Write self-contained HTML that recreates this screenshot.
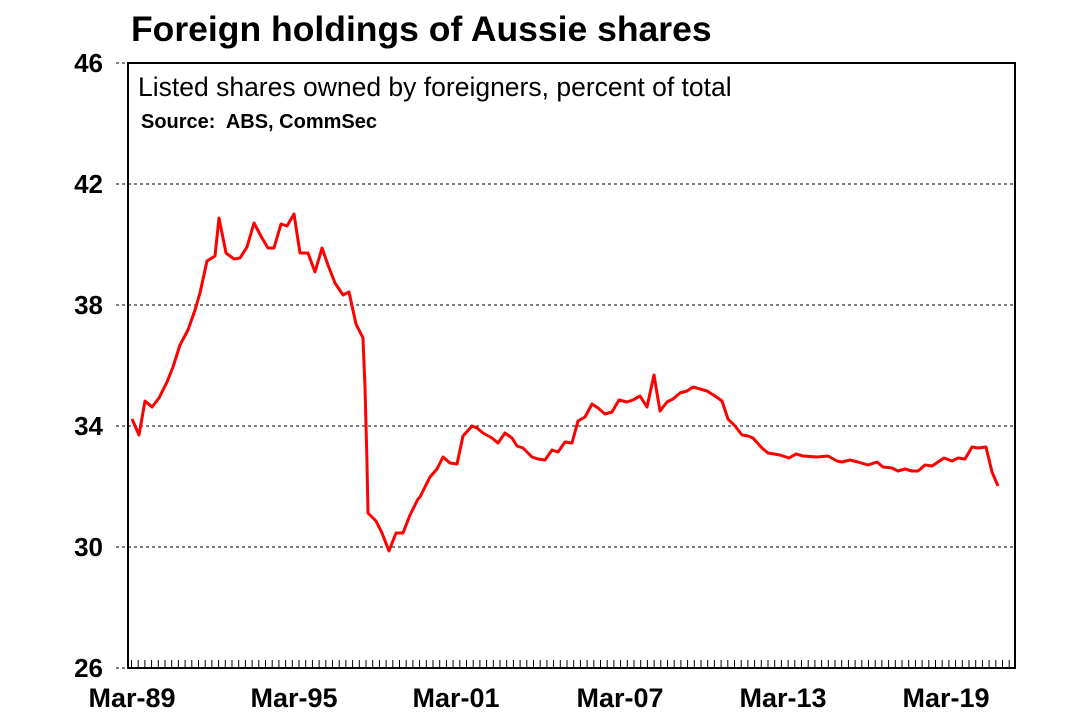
<!DOCTYPE html>
<html><head><style>body{margin:0;background:#fff}svg{display:block}</style></head><body>
<svg width="1080" height="720" xmlns="http://www.w3.org/2000/svg" font-family="Liberation Sans, Arial, sans-serif">
<rect width="1080" height="720" fill="#fff"/>
<text x="131" y="41" font-size="35.5" font-weight="bold">Foreign holdings of Aussie shares</text>
<g stroke="#333" stroke-width="1.3" stroke-dasharray="3,3">
<line x1="116" y1="63" x2="128" y2="63"/>
<line x1="116" y1="668" x2="128" y2="668"/>
<line x1="116" y1="184" x2="1015" y2="184"/><line x1="116" y1="305" x2="1015" y2="305"/>
<line x1="116" y1="426" x2="1015" y2="426"/><line x1="116" y1="547" x2="1015" y2="547"/>
</g>
<rect x="128" y="63" width="887" height="605" fill="none" stroke="#000" stroke-width="2"/>
<text x="138" y="96" font-size="26.5">Listed shares owned by foreigners, percent of total</text>
<text x="141" y="128" font-size="20" font-weight="bold" xml:space="preserve" style="white-space:pre">Source:  ABS, CommSec</text>
<g font-size="26" font-weight="bold" text-anchor="end">
<text x="103" y="72">46</text><text x="103" y="193">42</text><text x="103" y="314">38</text>
<text x="103" y="435">34</text><text x="103" y="556">30</text><text x="103" y="677">26</text>
</g>
<path stroke="#000" stroke-width="1" fill="none" d="M131.5 668v-8M138.2 668v-8M144.9 668v-8M151.6 668v-8M158.3 668v-8M165 668v-8M171.7 668v-8M178.4 668v-8M185.1 668v-8M191.8 668v-8M198.5 668v-8M205.2 668v-8M211.9 668v-8M218.6 668v-8M225.3 668v-8M232 668v-8M238.7 668v-8M245.4 668v-8M252.1 668v-8M258.8 668v-8M265.5 668v-8M272.2 668v-8M278.9 668v-8M285.6 668v-8M292.3 668v-8M299 668v-8M305.7 668v-8M312.4 668v-8M319.1 668v-8M325.8 668v-8M332.5 668v-8M339.2 668v-8M345.9 668v-8M352.6 668v-8M359.3 668v-8M366 668v-8M372.7 668v-8M379.4 668v-8M386.1 668v-8M392.8 668v-8M399.5 668v-8M406.2 668v-8M412.9 668v-8M419.6 668v-8M426.3 668v-8M433 668v-8M439.7 668v-8M446.4 668v-8M453.1 668v-8M459.8 668v-8M466.5 668v-8M473.2 668v-8M479.9 668v-8M486.6 668v-8M493.3 668v-8M500 668v-8M506.7 668v-8M513.4 668v-8M520.1 668v-8M526.8 668v-8M533.5 668v-8M540.2 668v-8M546.9 668v-8M553.6 668v-8M560.3 668v-8M567 668v-8M573.7 668v-8M580.4 668v-8M587.1 668v-8M593.8 668v-8M600.5 668v-8M607.2 668v-8M613.9 668v-8M620.6 668v-8M627.3 668v-8M634 668v-8M640.7 668v-8M647.4 668v-8M654.1 668v-8M660.8 668v-8M667.5 668v-8M674.2 668v-8M680.9 668v-8M687.6 668v-8M694.3 668v-8M701 668v-8M707.7 668v-8M714.4 668v-8M721.1 668v-8M727.8 668v-8M734.5 668v-8M741.2 668v-8M747.9 668v-8M754.6 668v-8M761.3 668v-8M768 668v-8M774.7 668v-8M781.4 668v-8M788.1 668v-8M794.8 668v-8M801.5 668v-8M808.2 668v-8M814.9 668v-8M821.6 668v-8M828.3 668v-8M835 668v-8M841.7 668v-8M848.4 668v-8M855.1 668v-8M861.8 668v-8M868.5 668v-8M875.2 668v-8M881.9 668v-8M888.6 668v-8M895.3 668v-8M902 668v-8M908.7 668v-8M915.4 668v-8M922.1 668v-8M928.8 668v-8M935.5 668v-8M942.2 668v-8M948.9 668v-8M955.6 668v-8M962.3 668v-8M969 668v-8M975.7 668v-8M982.4 668v-8M989.1 668v-8M995.8 668v-8M1002.5 668v-8M1009.2 668v-8"/>
<g font-size="27" font-weight="bold" text-anchor="middle">
<text x="132" y="707">Mar-89</text><text x="294" y="707">Mar-95</text><text x="456" y="707">Mar-01</text>
<text x="620" y="707">Mar-07</text><text x="783" y="707">Mar-13</text><text x="946" y="707">Mar-19</text>
</g>
<polyline fill="none" stroke="#f00" stroke-width="3" stroke-linejoin="round" points="132,419 139,435 145,401 152,407 159,398 167,382 173,367 180,345 188,330 195,310 200,293 207,261 215,256 219,218 226,253 234,259 240,258 247,247 254,223 262,238 268,248 274,248 281,224 287,226 294,214 300,253 308,253 315,272 322,248 328,265 335,283 343,295 349,292 356,324 363,338 365,387 367,463 368,513 376,521 382,533 389,551 396,533 403,533 410,515 418,499 420,497 430,477 437,469 443,457 450,463 457,464 463,436 472,426 477,428 483,433 492,438 498,443 505,433 512,438 517,446 523,448 532,457 538,459 545,460 552,450 558,452 565,442 572,443 578,421 585,417 592,404 598,408 605,414 612,412 619,400 627,402 633,400 640,396 647,407 654,375 660,411 667,402 673,399 680,393 687,391 693,387 700,389 707,391 715,396 722,401 728,419 735,426 742,435 748,436 753,438 762,448 768,453 780,455 789,458 796,454 803,456 817,457 828,456 837,461 842,462 850,460 858,462 868,465 877,462 883,467 892,468 898,471 905,469 912,471 918,471 925,465 932,466 938,462 944,458 952,461 958,458 965,459 972,447 978,448 986,447 992,472 998,486"/>
</svg>
</body></html>
